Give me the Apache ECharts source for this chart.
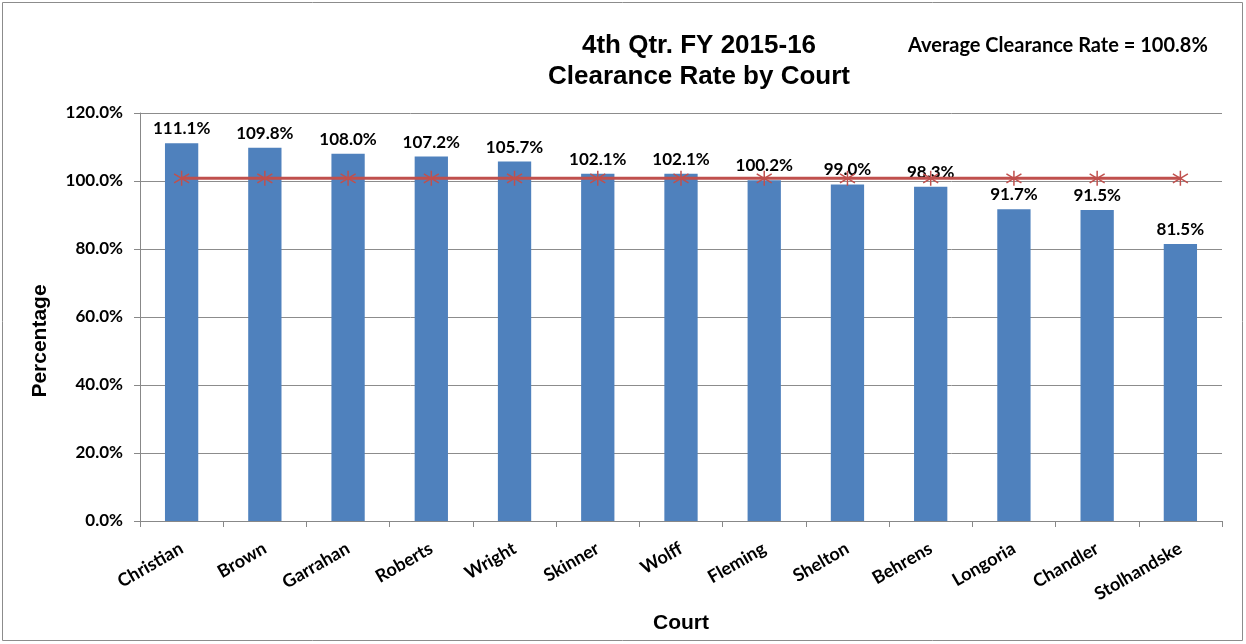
<!DOCTYPE html>
<html>
<head>
<meta charset="utf-8">
<style>
  html, body { margin: 0; padding: 0; background: #fff; }
  #chart { width: 1246px; height: 644px; }
</style>
<script src="https://cdn.jsdelivr.net/npm/echarts@6/dist/echarts.min.js"></script>
</head>
<body>
<div id="chart"></div>
<script>
  var courts = ['Christian', 'Brown', 'Garrahan', 'Roberts', 'Wright', 'Skinner', 'Wolff',
    'Fleming', 'Shelton', 'Behrens', 'Longoria', 'Chandler', 'Stolhandske'];
  var rates = [111.1, 109.8, 108.0, 107.2, 105.7, 102.1, 102.1, 100.2, 99.0, 98.3, 91.7, 91.5, 81.5];
  var averageRate = 100.8;
  var averageLine = courts.map(function () { return averageRate; });

  var calibri = 'Lato, "Open Sans", sans-serif';
  var arialBold = '"Liberation Sans", Arial, sans-serif';

  var chart = echarts.init(document.getElementById('chart'));
  var option = {
    backgroundColor: '#fff',
    animation: false,
    title: [{
      text: '4th Qtr. FY 2015-16\nClearance Rate by Court',
      left: 694,
      top: 25,
      textAlign: 'center',
      textStyle: { fontFamily: arialBold, fontSize: 26, fontWeight: 'bold', color: '#000', lineHeight: 31 }
    }, {
      text: 'Average Clearance Rate = ' + averageRate.toFixed(1) + '%',
      left: 903,
      top: 31,
      textStyle: { fontFamily: calibri, fontSize: 20, fontWeight: 'bold', color: '#000' }
    }],
    graphic: [{
      type: 'rect',
      shape: { x: 2.5, y: 2.5, width: 1240, height: 638 },
      style: { fill: 'none', stroke: '#8c8c8c', lineWidth: 1 },
      silent: true
    }, {
      // y axis title sits a little below the plot's middle in the original
      type: 'text',
      x: 40,
      y: 341,
      rotation: Math.PI / 2,
      style: {
        text: 'Percentage',
        fontFamily: arialBold,
        fontSize: 21,
        fontWeight: 'bold',
        fill: '#000',
        align: 'center',
        verticalAlign: 'middle'
      },
      silent: true
    }],
    grid: { left: 140, right: 24, top: 113, bottom: 123 },
    xAxis: {
      type: 'category',
      data: courts,
      name: 'Court',
      nameLocation: 'middle',
      nameGap: 92,
      nameTextStyle: { fontFamily: arialBold, fontSize: 21, fontWeight: 'bold', color: '#000' },
      axisLine: { lineStyle: { color: '#888', width: 1 } },
      axisTick: { show: true, length: 6, lineStyle: { color: '#888' } },
      axisLabel: {
        rotate: 30,
        margin: 26,
        fontFamily: calibri,
        fontSize: 18,
        fontWeight: 'bold',
        color: '#000'
      }
    },
    yAxis: {
      type: 'value',
      min: 0,
      max: 120,
      interval: 20,
      axisLine: { show: true, lineStyle: { color: '#888', width: 1 } },
      axisTick: { show: true, length: 6, lineStyle: { color: '#888' } },
      splitLine: { lineStyle: { color: '#8c8c8c', width: 1 } },
      axisLabel: {
        margin: 17,
        fontFamily: calibri,
        fontSize: 17,
        fontWeight: 'bold',
        color: '#000',
        formatter: function (v) { return v.toFixed(1) + '%'; }
      }
    },
    series: [{
      type: 'bar',
      data: rates,
      barWidth: '40%',
      itemStyle: { color: '#4f81bd' },
      label: {
        show: true,
        position: 'top',
        distance: 6,
        fontFamily: calibri,
        fontSize: 17,
        fontWeight: 'bold',
        color: '#000',
        formatter: function (p) { return p.value.toFixed(1) + '%'; }
      },
      z: 2
    }, {
      type: 'line',
      data: averageLine,
      lineStyle: { color: '#c0504d', width: 3 },
      symbol: 'path://M10,0L10,20M1,4L19,16M1,16L19,4',
      symbolSize: 15,
      itemStyle: { color: 'rgba(0,0,0,0)', borderColor: '#c0504d', borderWidth: 1.5 },
      z: 3
    }]
  };
  chart.setOption(option);
</script>
</body>
</html>
